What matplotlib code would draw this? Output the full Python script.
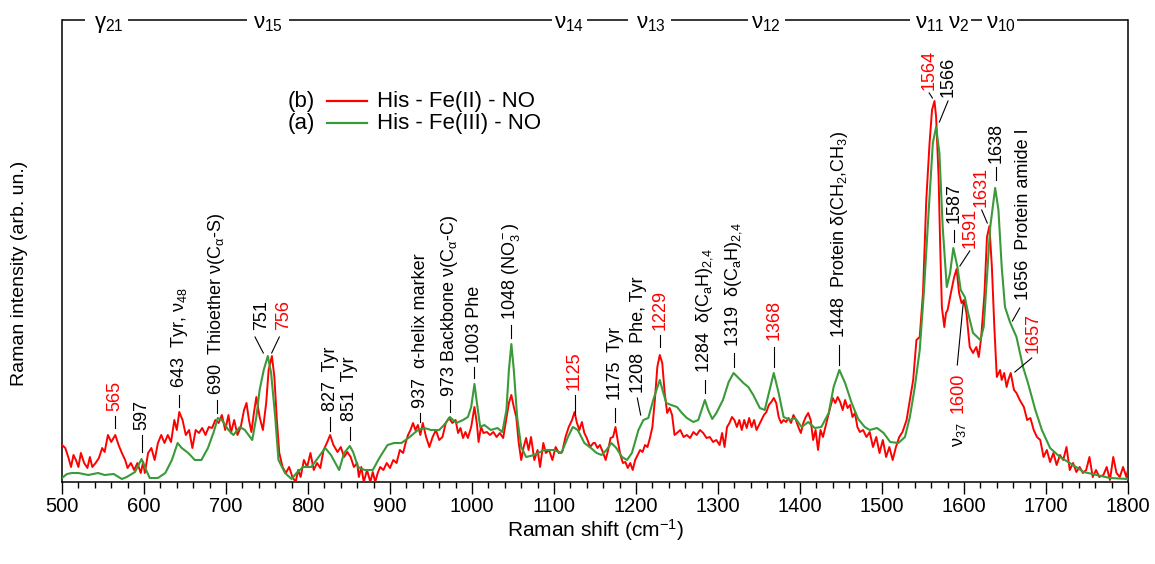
import matplotlib
matplotlib.use("Agg")
import matplotlib.pyplot as plt
from matplotlib.ticker import MultipleLocator
from matplotlib.lines import Line2D

plt.rcParams['font.family'] = ['Liberation Sans', 'DejaVu Sans']
plt.rcParams['mathtext.fontset'] = 'custom'
plt.rcParams['mathtext.rm'] = 'Liberation Sans'
plt.rcParams['mathtext.it'] = 'Liberation Sans:italic'
plt.rcParams['mathtext.bf'] = 'Liberation Sans:bold'
plt.rcParams['mathtext.default'] = 'regular'

# ---- spectra (Raman shift in cm^-1, intensity in arbitrary units) ----
red_shift = [
    500, 504, 508, 511, 514, 517, 520, 523, 527, 531, 534, 537, 541, 545, 549, 552, 556, 560, 565, 569,
    573, 577, 580, 584, 588, 592, 596, 599, 601, 605, 609, 613, 617, 621, 625, 629, 633, 637, 640, 643,
    647, 651, 655, 659, 663, 667, 671, 675, 679, 683, 687, 691, 695, 699, 703, 706, 710, 714, 718, 722,
    725, 728, 731, 734, 737, 741, 745, 749, 752, 756, 759, 762, 765, 769, 773, 777, 781, 785, 788, 791,
    795, 799, 803, 807, 811, 815, 819, 823, 827, 831, 836, 840, 844, 848, 852, 856, 860, 862, 865, 868,
    872, 876, 879, 882, 885, 888, 892, 896, 900, 904, 908, 912, 916, 919, 922, 925, 928, 931, 934, 937,
    940, 944, 948, 952, 956, 960, 964, 968, 972, 976, 980, 983, 986, 989, 992, 995, 999, 1003, 1006, 1008,
    1011, 1014, 1018, 1022, 1026, 1030, 1034, 1038, 1041, 1045, 1048, 1051, 1054, 1057, 1060, 1063, 1066, 1069, 1072, 1076,
    1080, 1083, 1087, 1090, 1094, 1098, 1102, 1106, 1110, 1114, 1118, 1122, 1125, 1128, 1131, 1134, 1137, 1140, 1144, 1148,
    1150, 1153, 1156, 1160, 1163, 1166, 1169, 1172, 1175, 1178, 1181, 1184, 1187, 1190, 1193, 1196, 1199, 1202, 1205, 1208,
    1211, 1214, 1217, 1220, 1223, 1226, 1229, 1232, 1235, 1238, 1241, 1244, 1247, 1250, 1254, 1258, 1262, 1266, 1270, 1274,
    1278, 1282, 1286, 1290, 1294, 1298, 1302, 1305, 1308, 1311, 1314, 1317, 1320, 1323, 1326, 1329, 1332, 1335, 1338, 1341,
    1344, 1347, 1350, 1353, 1356, 1359, 1362, 1365, 1368, 1371, 1374, 1377, 1380, 1383, 1386, 1389, 1392, 1395, 1398, 1401,
    1404, 1407, 1410, 1413, 1416, 1419, 1422, 1425, 1428, 1431, 1434, 1437, 1440, 1443, 1446, 1449, 1452, 1455, 1458, 1461,
    1464, 1467, 1470, 1473, 1477, 1481, 1485, 1489, 1493, 1497, 1501, 1505, 1509, 1513, 1517, 1521, 1525, 1530, 1534, 1538,
    1542, 1546, 1550, 1554, 1558, 1561, 1564, 1566, 1569, 1571, 1573, 1576, 1578, 1580, 1584, 1588, 1591, 1594, 1597, 1600,
    1603, 1607, 1611, 1615, 1618, 1621, 1625, 1628, 1631, 1634, 1637, 1640, 1644, 1646, 1649, 1652, 1654, 1657, 1661, 1664,
    1668, 1673, 1677, 1681, 1685, 1689, 1693, 1697, 1701, 1705, 1709, 1713, 1717, 1721, 1725, 1729, 1733, 1737, 1741, 1745,
    1749, 1753, 1757, 1761, 1765, 1770, 1774, 1778, 1782, 1786, 1790, 1794, 1798, 1800,
]
red_intensity = [
    37, 34, 24, 15, 27, 22, 15, 29, 19, 14, 25, 15, 19, 24, 34, 30, 47, 40, 47, 37,
    29, 22, 14, 19, 12, 19, 9, 20, 9, 29, 34, 22, 39, 47, 39, 47, 40, 62, 52, 70,
    62, 47, 52, 34, 52, 49, 54, 47, 55, 54, 62, 59, 67, 52, 67, 49, 62, 47, 55, 72,
    79, 62, 50, 69, 85, 65, 52, 79, 112, 126, 105, 62, 29, 15, 9, 15, 5, 0, 12, 5,
    22, 15, 29, 12, 19, 14, 32, 39, 47, 37, 30, 35, 25, 30, 25, 15, 19, 5, 15, 0,
    12, 0, 10, 0, 9, 15, 12, 19, 14, 22, 19, 32, 29, 39, 47, 52, 59, 52, 57, 47,
    59, 45, 35, 45, 52, 42, 45, 59, 64, 59, 62, 49, 54, 44, 50, 44, 55, 75, 58, 40,
    55, 49, 50, 47, 50, 45, 49, 44, 59, 79, 87, 75, 65, 39, 22, 35, 44, 32, 45, 22,
    32, 15, 39, 29, 32, 22, 35, 29, 30, 45, 55, 62, 70, 59, 52, 60, 49, 44, 35, 39,
    39, 34, 37, 29, 22, 32, 44, 45, 55, 40, 27, 19, 20, 14, 19, 12, 22, 27, 32, 30,
    37, 35, 44, 55, 82, 115, 127, 119, 89, 69, 74, 67, 47, 49, 52, 45, 47, 44, 50, 47,
    52, 49, 44, 45, 40, 42, 37, 49, 35, 55, 59, 65, 62, 55, 62, 52, 62, 54, 64, 55,
    62, 52, 57, 62, 67, 70, 77, 80, 84, 79, 65, 59, 62, 60, 64, 59, 67, 62, 55, 49,
    59, 65, 69, 62, 42, 52, 32, 52, 45, 55, 65, 75, 84, 79, 85, 80, 72, 82, 74, 77,
    65, 69, 55, 50, 52, 45, 50, 35, 45, 29, 42, 25, 35, 22, 35, 45, 50, 62, 82, 102,
    142, 145, 189, 282, 339, 372, 381, 365, 305, 235, 175, 155, 169, 172, 189, 205, 213, 189, 179, 182,
    169, 135, 129, 135, 125, 145, 189, 245, 256, 215, 155, 105, 112, 102, 109, 95, 102, 109, 92, 89,
    82, 75, 62, 64, 52, 45, 42, 25, 32, 20, 29, 17, 27, 22, 35, 12, 19, 10, 15, 9,
    12, 25, 5, 12, 5, 7, 15, 2, 25, 9, 5, 15, 5, 12,
]

green_shift = [
    500, 506, 512, 520, 532, 544, 552, 563, 573, 579, 589, 594, 597, 601, 607, 617, 626, 634, 641, 646,
    654, 662, 670, 678, 685, 690, 695, 703, 709, 717, 723, 732, 737, 741, 746, 751, 755, 760, 764, 772,
    780, 786, 794, 804, 813, 821, 828, 838, 844, 851, 855, 861, 869, 879, 887, 897, 905, 914, 924, 934,
    942, 950, 960, 967, 973, 981, 989, 995, 999, 1003, 1006, 1010, 1015, 1023, 1031, 1037, 1042, 1045, 1048, 1051,
    1055, 1060, 1066, 1076, 1088, 1100, 1109, 1117, 1123, 1129, 1137, 1145, 1152, 1158, 1164, 1170, 1176, 1183, 1189, 1195,
    1203, 1209, 1215, 1221, 1229, 1233, 1237, 1243, 1250, 1256, 1262, 1270, 1276, 1280, 1284, 1288, 1293, 1298, 1306, 1313,
    1319, 1325, 1331, 1337, 1343, 1351, 1357, 1363, 1368, 1374, 1380, 1388, 1394, 1402, 1410, 1418, 1426, 1435, 1441, 1448,
    1455, 1463, 1471, 1479, 1485, 1494, 1502, 1510, 1520, 1528, 1534, 1540, 1546, 1551, 1557, 1562, 1566, 1570, 1574, 1579,
    1583, 1587, 1592, 1596, 1601, 1605, 1611, 1620, 1624, 1628, 1632, 1638, 1642, 1646, 1650, 1656, 1664, 1672, 1678, 1687,
    1695, 1705, 1717, 1729, 1746, 1762, 1778, 1800,
]
green_intensity = [
    4, 8, 9, 9, 7, 9, 7, 8, 3, 5, 10, 18, 23, 15, 4, 4, 9, 22, 39, 34,
    29, 22, 22, 34, 50, 64, 62, 52, 47, 55, 52, 42, 65, 92, 112, 126, 109, 65, 22, 9,
    3, 9, 15, 15, 25, 34, 27, 12, 29, 36, 30, 15, 12, 12, 24, 37, 39, 39, 45, 52,
    54, 52, 52, 58, 65, 59, 62, 65, 75, 98, 79, 55, 57, 52, 54, 50, 72, 112, 138, 112,
    65, 35, 25, 27, 32, 32, 29, 45, 55, 52, 39, 34, 29, 27, 32, 39, 34, 25, 22, 29,
    52, 62, 64, 82, 102, 90, 79, 77, 75, 69, 64, 60, 62, 72, 82, 72, 63, 69, 82, 100,
    109, 104, 99, 95, 87, 74, 72, 92, 109, 89, 65, 62, 64, 55, 60, 54, 55, 69, 95, 112,
    99, 79, 63, 55, 52, 54, 49, 40, 39, 45, 65, 95, 132, 189, 272, 339, 355, 329, 255, 195,
    209, 234, 215, 192, 185, 169, 149, 142, 155, 205, 255, 294, 272, 215, 175, 160, 145, 115, 99, 72,
    52, 34, 25, 19, 10, 7, 4, 3,
]

series_labels = ['His - Fe(II) - NO', 'His - Fe(III) - NO']
series_tags = ['(b)', '(a)']
x_ticks = list(range(500, 1801, 100))

RED = '#ff0000'
GREEN = '#3a9a3a'
K = 'black'

fig = plt.figure(figsize=(11.55, 5.64), dpi=100)
ax = fig.add_axes([62 / 1155, 1 - 482 / 564, 1066 / 1155, 462.5 / 564])

ax.plot(red_shift, red_intensity, color=RED, lw=1.4, zorder=3)
ax.plot(green_shift, green_intensity, color=GREEN, lw=1.5, zorder=4)

ax.set_xlim(500, 1800)
ax.set_ylim(0, 462.5)
ax.set_yticks([])
ax.set_xticks(x_ticks)
ax.xaxis.set_minor_locator(MultipleLocator(20))
ax.tick_params(axis='x', which='major', direction='out', length=8.5, width=1.0,
               labelsize=14.5, pad=2)
ax.tick_params(axis='x', which='minor', direction='out', length=4, width=1.0)
ax.spines['top'].set_visible(False)
for s in ('left', 'right', 'bottom'):
    ax.spines[s].set_linewidth(1.1)

fig.text(595 / 1155, 1 - 530 / 564, 'Raman shift (cm$^{-1}$)', ha='center', va='center', fontsize=15)
fig.text(20 / 1155, 1 - 273 / 564, 'Raman intensity (arb. un.)', ha='center', va='center',
         rotation=90, fontsize=14)

# ---- broken top frame carrying the mode labels ----
xt = ax.get_xaxis_transform()
top_segments = [(500, 528), (580.5, 725), (777, 1097.6), (1140, 1190), (1242.7, 1336.6),
                (1381.7, 1534), (1608.5, 1622), (1664.6, 1800)]
for a, b in top_segments:
    ax.plot([a, b], [1, 1], transform=xt, color=K, lw=1.1, clip_on=False, solid_capstyle='butt')
mode_labels = [(557, r'$γ_{21}$'), (751, r'$ν_{15}$'), (1118, r'$ν_{14}$'), (1218, r'$ν_{13}$'),
               (1358.5, r'$ν_{12}$'), (1558.5, r'$ν_{11}$'), (1594, r'$ν_{2}$'), (1645, r'$ν_{10}$')]
for x, s in mode_labels:
    ax.text(x, 0.9816, s, transform=xt, ha='center', va='baseline', fontsize=16, clip_on=False)

# ---- band assignments ----
band_labels = [
    ('565', RED, 565, 71, (565, 66), (565, 54)),
    ('597', K, 597, 52, (597, 47), (597, 30)),
    ('643  Tyr, ν$_{48}$', K, 643, 94, (643, 87), (643, 75)),
    ('690  Thioether ν(C$_{α}$-S)', K, 689, 87, (689, 82), (689, 69)),
    ('751', K, 743.5, 152, (735.4, 145), (745.5, 129)),
    ('756', RED, 770, 152, (765, 145), (755.7, 129)),
    ('827  Tyr', K, 827, 71, (827, 65), (827, 51)),
    ('851  Tyr', K, 851, 61, (851, 55), (851, 42)),
    ('937  α-helix marker', K, 937, 74, (937, 69), (937, 60)),
    ('973 Backbone ν(C$_{α}$-C)', K, 973, 85, (973, 82), (973, 70)),
    ('1003 Phe', K, 1003, 119, (1003, 115), (1003, 104)),
    ('1048 (NO$_3^-$)', K, 1048, 162, (1048, 157), (1048, 144)),
    ('1125', RED, 1125, 92, (1125, 87), (1125, 67)),
    ('1175  Tyr', K, 1175, 82, (1175, 74), (1175, 60)),
    ('1208  Phe, Tyr', K, 1203, 89, (1201.6, 84), (1205.7, 67)),
    ('1229', RED, 1229, 152, (1229, 147), (1229, 135)),
    ('1284  δ(C$_a$H)$_{2{,}4}$', K, 1284, 109, (1284, 102), (1284, 89)),
    ('1319  δ(C$_a$H)$_{2{,}4}$', K, 1319, 135, (1319, 129), (1319, 115)),
    ('1368', RED, 1368, 142, (1368, 135), (1368, 115)),
    ('1448  Protein δ(CH$_2$,CH$_3$)', K, 1448, 144, (1448, 137), (1448, 117)),
    ('1564', RED, 1557, 392, (1557.5, 389), (1561.5, 384)),
    ('1566', K, 1580.5, 385, (1580.5, 381), (1570, 360)),
    ('1587', K, 1588, 259, (1588, 252), (1588, 240)),
    ('1591', RED, 1607, 234, (1607, 231), (1595, 216)),
    ('1631', RED, 1621, 275, (1621.6, 272), (1628.4, 259)),
    ('1638', K, 1639, 319, (1639, 315), (1639, 302)),
    ('1656  Protein amide I', K, 1672, 182, (1668, 174), (1659, 161)),
    ('1657', RED, 1684, 129, (1682.6, 124), (1662, 110)),
]
for text, col, tx, ty, p0, p1 in band_labels:
    ax.text(tx, ty, text, color=col, rotation=90, ha='center', va='bottom', fontsize=13)
    ax.plot([p0[0], p1[0]], [p0[1], p1[1]], color=K, lw=0.8, zorder=5)

ax.text(1593, 109, '1600', color=RED, rotation=90, ha='center', va='top', fontsize=13)
ax.plot([1591.8, 1599.1], [117, 179], color=K, lw=0.8, zorder=5)
ax.text(1595, 47, 'ν$_{37}$', color=K, rotation=90, ha='center', va='center', fontsize=13)

# ---- legend ----
def ax_pt(px, py):
    return ((px - 62) / 1066, (482 - py) / 462.5)

for (tag, lab, col), py in zip(zip(series_tags, series_labels, [RED, GREEN]), [101, 123]):
    x0, y0 = ax_pt(288, py)
    ax.text(x0, y0, tag, transform=ax.transAxes, ha='left', va='center', fontsize=16)
    xa, _ = ax_pt(327, py)
    xb, _ = ax_pt(367, py)
    ax.add_line(Line2D([xa, xb], [y0, y0], transform=ax.transAxes, color=col, lw=1.6))
    x1, _ = ax_pt(377, py)
    ax.text(x1, y0, lab, transform=ax.transAxes, ha='left', va='center', fontsize=16)

fig.savefig('out.png', dpi=100)
